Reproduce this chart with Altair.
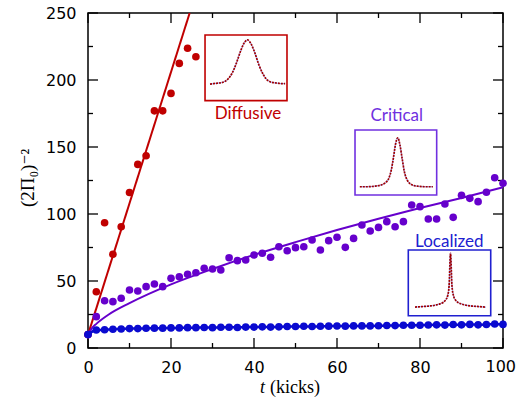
import altair as alt
import pandas as pd

# ---------------- data ----------------
red_t = [0, 2, 4, 6, 8, 10, 12, 14, 16, 18, 20, 22, 24, 26]
red_y = [10, 42, 93.5, 70, 90.5, 116, 137, 143.5, 177, 177, 190, 212.4, 223.7, 217.4]
red_fit_t = [0, 24.5]
red_fit_y = [10, 250]

grid_t = list(range(0, 101, 2))
purple_y = [10, 23.4, 35.3, 34.6, 37.1, 43.3, 42.5, 45.8, 47.8, 45.8,
            52, 53.2, 55, 56.2, 59.5, 59, 58.2, 67.4, 65.2, 65.7,
            69.4, 70.7, 67.7, 75.6, 72.6, 74.9, 75.6, 80.6, 73.1, 80.1,
            82.6, 75.1, 81.8, 91.8, 87.3, 90, 94.3, 90.5, 94.3, 106.7,
            105.5, 96.3, 96.3, 107.5, 97.5, 113.9, 111.7, 109.2, 116.2, 127.1,
            122.9]
purple_fit_t = [0, 1, 2, 5, 10, 20, 30, 40, 50, 60, 70, 80, 90, 100]
purple_fit_y = [10, 15, 18, 25, 33.5, 47.5, 59, 69.5, 79, 88, 96.5, 104.5, 112, 120]

blue_y = [10, 13.4, 13.6, 14, 14.2, 14.5, 14.5, 14.7, 14.8, 14.8,
          15, 15, 15.2, 15.2, 15.3, 15.2, 15.5, 15.5, 15.3, 15.6,
          15.6, 15.8, 15.6, 15.8, 16, 16, 16.2, 16, 16.2, 16.3,
          16.4, 16.3, 16.5, 16.5, 16.5, 16.6, 16.8, 16.7, 17, 17,
          17, 17.2, 17.3, 17.1, 17.5, 17.3, 17.6, 17.3, 17.5, 17.9,
          17.6]

x_ticks_major = [0, 20, 40, 60, 80, 100]
x_ticks_minor = [10, 30, 50, 70, 90]
y_ticks_major = [0, 50, 100, 150, 200, 250]
y_ticks_minor = [25, 75, 125, 175, 225]

# inset peak profiles (normalised shape)
diff_u = [0, 0.05, 0.1, 0.15, 0.2, 0.25, 0.3, 0.35, 0.4, 0.45, 0.5, 0.55, 0.6, 0.65, 0.7, 0.75, 0.8, 0.85, 0.9, 0.95, 1.0]
diff_v = [0.02, 0.03, 0.04, 0.05, 0.08, 0.15, 0.28, 0.48, 0.72, 0.92, 1.0, 0.9, 0.7, 0.45, 0.26, 0.13, 0.07, 0.05, 0.04, 0.03, 0.03]
crit_u = [0, 0.1, 0.2, 0.25, 0.3, 0.35, 0.4, 0.43, 0.46, 0.49, 0.52, 0.55, 0.58, 0.61, 0.65, 0.7, 0.75, 0.8, 0.9, 1.0]
crit_v = [0.02, 0.02, 0.03, 0.04, 0.06, 0.1, 0.2, 0.35, 0.6, 0.88, 1.0, 0.85, 0.58, 0.32, 0.15, 0.07, 0.04, 0.03, 0.02, 0.02]
loc_u = [0, 0.1, 0.2, 0.3, 0.35, 0.4, 0.43, 0.46, 0.48, 0.5, 0.52, 0.54, 0.57, 0.6, 0.65, 0.7, 0.8, 0.9, 1.0]
loc_v = [0.01, 0.02, 0.03, 0.05, 0.07, 0.1, 0.14, 0.22, 0.4, 1.0, 0.42, 0.23, 0.14, 0.1, 0.07, 0.05, 0.03, 0.02, 0.01]

labels = ["Diffusive", "Critical", "Localized"]

# ---------------- layout / style ----------------
RED = "#c00000"
PURPLE = "#6600cc"
BLUE = "#0a0ad0"
LABEL_COLORS = [RED, "#7030e0", "#2020d0"]
W, H = 415, 335

# inset boxes in data coordinates: box (t0, t1, y0, y1), curve (t0, t1, base, peak), label (t, y)
insets = [
    dict(box=(28.2, 47.95, 184.6, 233.6), curve=(29.4, 47.5, 196.3, 229.9), lab=(38.55, 174.6)),
    dict(box=(64.34, 84.02, 114.2, 162.7), curve=(65.5, 83.1, 119.6, 156.9), lab=(74.4, 173.4)),
    dict(box=(77.18, 97.04, 24.1, 73.1), curve=(78.8, 95.9, 30.1, 70.7), lab=(87.06, 79.3)),
]
profiles = [(diff_u, diff_v), (crit_u, crit_v), (loc_u, loc_v)]

xs = alt.Scale(domain=[0, 100], nice=False, zero=False)
ys = alt.Scale(domain=[0, 250], nice=False, zero=False)

# the last x label ("100") sits against the right edge, drawn separately below
x_axis = alt.Axis(values=x_ticks_major[:-1], ticks=False, domain=False, grid=False, title=None,
                  labelFont="DejaVu Sans", labelFontSize=16, labelColor="black",
                  labelPadding=11, labelFlush=False)
y_axis = alt.Axis(values=y_ticks_major, ticks=False, domain=False, grid=False, title=None,
                  labelFont="DejaVu Sans", labelFontSize=16, labelColor="black",
                  labelPadding=12, labelFlush=False)

layers = []

# axes carrier (invisible)
base_df = pd.DataFrame({"t": [0, 100], "y": [0, 250]})
layers.append(alt.Chart(base_df).mark_point(opacity=0).encode(
    x=alt.X("t:Q", scale=xs, axis=x_axis),
    y=alt.Y("y:Q", scale=ys, axis=y_axis)))

last_lab = pd.DataFrame({"t": [x_ticks_major[-1]], "txt": [str(x_ticks_major[-1])]})
layers.append(alt.Chart(last_lab).mark_text(font="DejaVu Sans", fontSize=16, color="black",
                                            align="right", baseline="top", dx=13).encode(
    x=alt.X("t:Q", scale=xs), y=alt.value(H + 11), text="txt:N"))

# ticks (inward, all four sides)
def xticks(vals, length):
    d = pd.DataFrame({"v": vals})
    b = alt.Chart(d).mark_rule(color="black", strokeWidth=1.3).encode(
        x=alt.X("v:Q", scale=xs), y=alt.value(H), y2=alt.value(H - length))
    t = alt.Chart(d).mark_rule(color="black", strokeWidth=1.3).encode(
        x=alt.X("v:Q", scale=xs), y=alt.value(0), y2=alt.value(length))
    return [b, t]

def yticks(vals, length):
    d = pd.DataFrame({"v": vals})
    l = alt.Chart(d).mark_rule(color="black", strokeWidth=1.3).encode(
        y=alt.Y("v:Q", scale=ys), x=alt.value(0), x2=alt.value(length))
    r = alt.Chart(d).mark_rule(color="black", strokeWidth=1.3).encode(
        y=alt.Y("v:Q", scale=ys), x=alt.value(W), x2=alt.value(W - length))
    return [l, r]

layers += xticks(x_ticks_major, 10) + xticks(x_ticks_minor, 5)
layers += yticks(y_ticks_major, 10) + yticks(y_ticks_minor, 5)

# insets
for i, ins in enumerate(insets):
    bx = ins["box"]
    box_df = pd.DataFrame({"t0": [bx[0]], "t1": [bx[1]], "y0": [bx[2]], "y1": [bx[3]]})
    layers.append(alt.Chart(box_df).mark_rect(fill="white", stroke=LABEL_COLORS[i], strokeWidth=1.6).encode(
        x=alt.X("t0:Q", scale=xs), x2="t1:Q", y=alt.Y("y0:Q", scale=ys), y2="y1:Q"))
    cu = ins["curve"]
    u, v = profiles[i]
    cdf = pd.DataFrame({"t": [cu[0] + a * (cu[1] - cu[0]) for a in u],
                        "y": [cu[2] + b * (cu[3] - cu[2]) for b in v]})
    layers.append(alt.Chart(cdf).mark_line(color="#8fa0ff", strokeWidth=1, interpolate="monotone").encode(
        x=alt.X("t:Q", scale=xs), y=alt.Y("y:Q", scale=ys)))
    layers.append(alt.Chart(cdf).mark_line(color="#a00000", strokeWidth=1.7, strokeDash=[2, 1],
                                           interpolate="monotone").encode(
        x=alt.X("t:Q", scale=xs), y=alt.Y("y:Q", scale=ys)))
    lab_df = pd.DataFrame({"t": [ins["lab"][0]], "y": [ins["lab"][1]], "txt": [labels[i]]})
    layers.append(alt.Chart(lab_df).mark_text(font="Lato", fontSize=17, color=LABEL_COLORS[i],
                                              align="center", baseline="middle").encode(
        x=alt.X("t:Q", scale=xs), y=alt.Y("y:Q", scale=ys), text="txt:N"))

# red diffusive
red_df = pd.DataFrame({"t": red_t, "y": red_y})
red_fit = pd.DataFrame({"t": red_fit_t, "y": red_fit_y})
layers.append(alt.Chart(red_fit).mark_line(color=RED, strokeWidth=2, clip=True).encode(
    x=alt.X("t:Q", scale=xs), y=alt.Y("y:Q", scale=ys)))
layers.append(alt.Chart(red_df).mark_circle(color=RED, size=58, opacity=1).encode(
    x=alt.X("t:Q", scale=xs), y=alt.Y("y:Q", scale=ys)))

# purple critical
pur_df = pd.DataFrame({"t": grid_t, "y": purple_y})
pur_fit = pd.DataFrame({"t": purple_fit_t, "y": purple_fit_y})
layers.append(alt.Chart(pur_fit).mark_line(color=PURPLE, strokeWidth=2, interpolate="monotone").encode(
    x=alt.X("t:Q", scale=xs), y=alt.Y("y:Q", scale=ys)))
layers.append(alt.Chart(pur_df).mark_circle(color=PURPLE, size=58, opacity=1).encode(
    x=alt.X("t:Q", scale=xs), y=alt.Y("y:Q", scale=ys)))

# blue localized
blue_df = pd.DataFrame({"t": grid_t, "y": blue_y})
layers.append(alt.Chart(blue_df).mark_line(color=BLUE, strokeWidth=2.5, interpolate="monotone").encode(
    x=alt.X("t:Q", scale=xs), y=alt.Y("y:Q", scale=ys)))
layers.append(alt.Chart(blue_df).mark_circle(color=BLUE, size=58, opacity=1).encode(
    x=alt.X("t:Q", scale=xs), y=alt.Y("y:Q", scale=ys)))

# axis titles
tx = pd.DataFrame({"a": [0]})
layers.append(alt.Chart(tx).mark_text(text="t", font="Liberation Serif", fontStyle="italic", fontSize=18,
                                      align="left", baseline="middle", color="black").encode(
    x=alt.value(172), y=alt.value(375)))
layers.append(alt.Chart(tx).mark_text(text="(kicks)", font="Liberation Serif", fontSize=18,
                                      align="left", baseline="middle", color="black").encode(
    x=alt.value(182), y=alt.value(375)))
layers.append(alt.Chart(tx).mark_text(text="(2Π₀)⁻²", font="Liberation Serif, DejaVu Serif", fontSize=19,
                                      angle=270, align="center", baseline="middle", color="black").encode(
    x=alt.value(-60), y=alt.value(165)))

chart = alt.layer(*layers).properties(
    width=W, height=H,
    autosize=alt.AutoSizeParams(type="none"),
    padding={"left": 88, "top": 13, "right": 14, "bottom": 55},
    background="white",
).configure_view(stroke="black", strokeWidth=1.5)

chart.save("out.html", embed_options={"renderer": "svg", "actions": False})
